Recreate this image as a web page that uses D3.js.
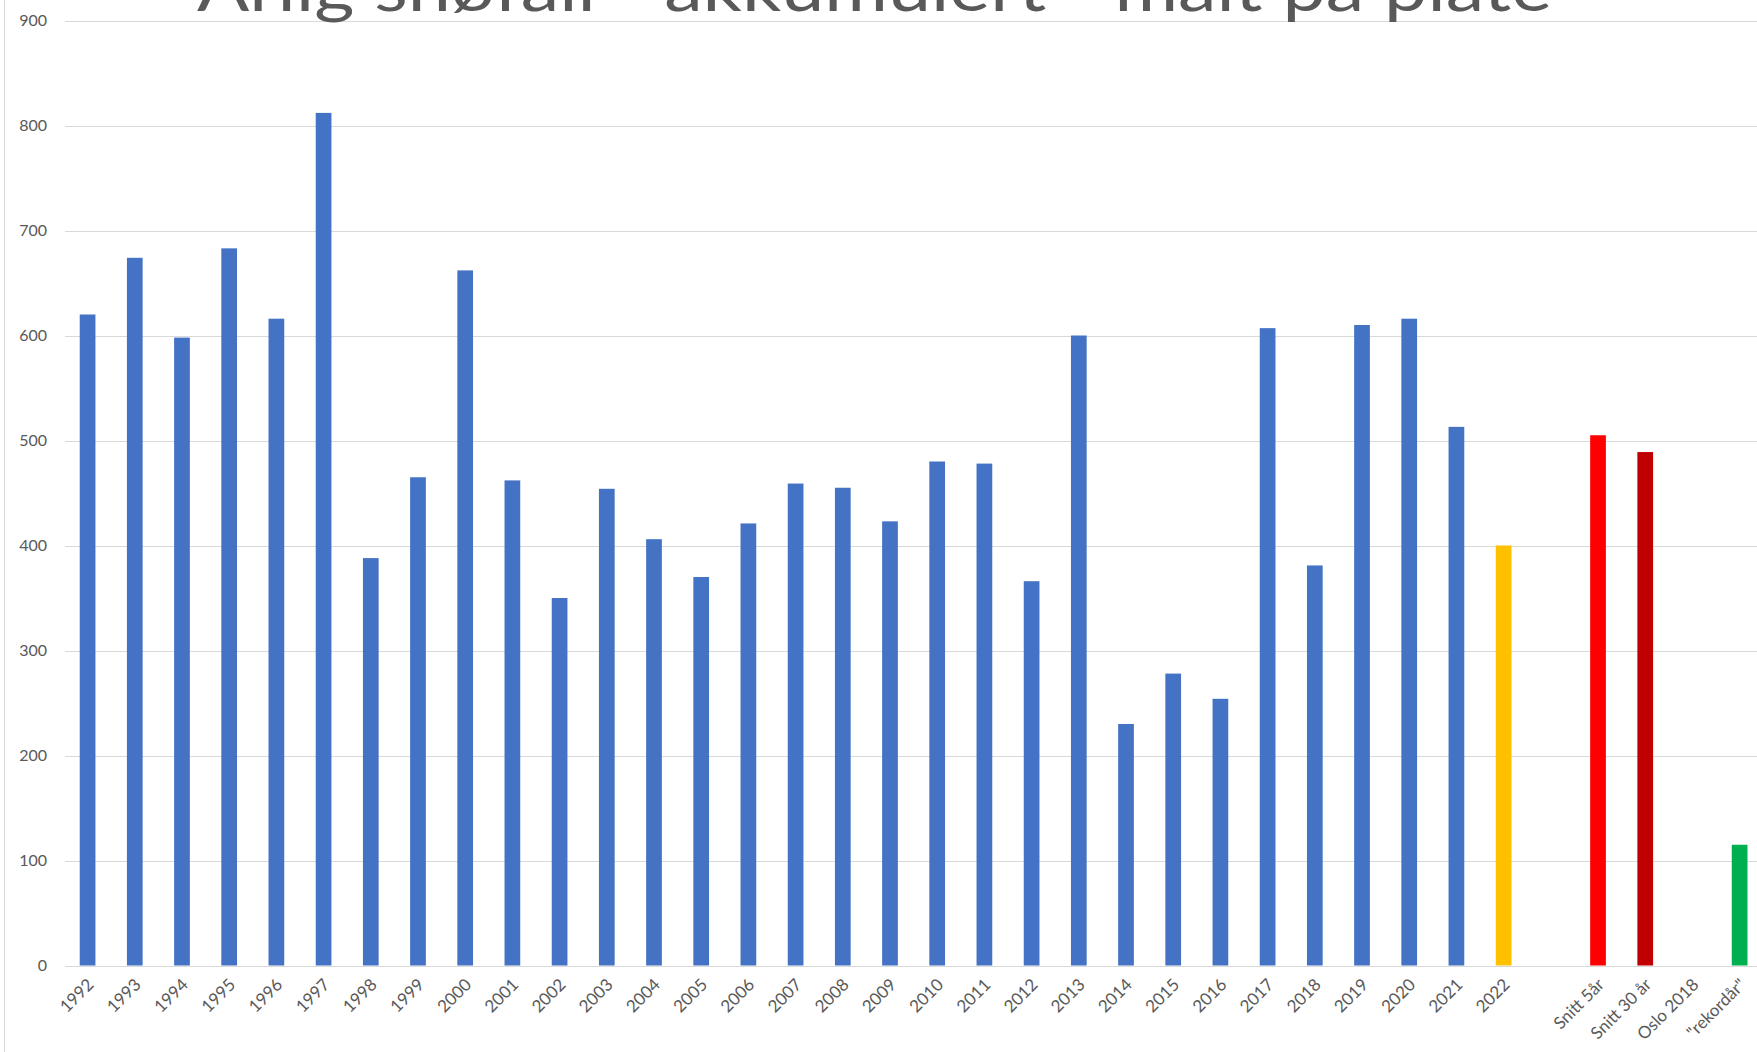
<html>
<script src='https://d3js.org/d3.v7.min.js'></script>
<style>
    body { margin: 0; background: white; }
    text { font-family: Lato, 'Open Sans', sans-serif; fill: #595959; }
</style>
<body>
<svg class="chart" width=1757 height=1052></svg>

<script>
// chart data
let categories = ['1992','1993','1994','1995','1996','1997','1998','1999','2000','2001',
    '2002','2003','2004','2005','2006','2007','2008','2009','2010','2011',
    '2012','2013','2014','2015','2016','2017','2018','2019','2020','2021',
    '2022',' ','Snitt 5år','Snitt 30 år','Oslo 2018','"rekordår"'];
let snow = [620,674,598,683,616,812,388,465,662,462,
    350,454,406,370,421,459,455,423,480,478,
    366,600,230,278,254,607,381,610,616,513,
    400,null,505,489,null,115];
let barColors = ['#4472C4','#4472C4','#4472C4','#4472C4','#4472C4','#4472C4','#4472C4','#4472C4','#4472C4','#4472C4',
    '#4472C4','#4472C4','#4472C4','#4472C4','#4472C4','#4472C4','#4472C4','#4472C4','#4472C4','#4472C4',
    '#4472C4','#4472C4','#4472C4','#4472C4','#4472C4','#4472C4','#4472C4','#4472C4','#4472C4','#4472C4',
    '#FFC000',null,'#FF0000','#C00000',null,'#00B050'];
let yTicks = [0,100,200,300,400,500,600,700,800,900];
let title = 'Årlig snøfall - akkumulert - målt på plate';

let left = 64;     // start of plot area
let step = 47.2;   // width of one category
let y0 = 965.5;    // pixel of value 0
let y900 = 20.5;   // pixel of value 900

let svg = d3.select('.chart');

let xs = d3.scaleBand().domain(categories)
    .range([left, left + categories.length * step])
    .paddingInner(0.667).paddingOuter(0.333);
let ys = d3.scaleLinear().domain([0, 900]).range([y0, y900]);

// outer border of the chart area (only the left edge is inside the crop)
svg.append('line')
    .attr('x1', 4.5).attr('x2', 4.5)
    .attr('y1', 0).attr('y2', 1052)
    .attr('stroke', '#D9D9D9').attr('stroke-width', 1);

// horizontal grid lines
svg.append('g').selectAll('line')
    .data(yTicks)
    .join('line')
    .attr('x1', left + 1)
    .attr('x2', 1757)
    .attr('y1', d => Math.round(ys(d)) + 0.5)
    .attr('y2', d => Math.round(ys(d)) + 0.5)
    .attr('stroke', '#D9D9D9')
    .attr('stroke-width', 1);

// y axis labels
let y_axis = d3.axisLeft(ys).tickValues(yTicks).tickSize(0).tickPadding(0);
let yg = svg.append('g')
    .attr('transform', 'translate(47,0)')
    .call(y_axis);
yg.select('.domain').remove();
yg.selectAll('text')
    .style('font-size', '16px')
    .attr('fill', '#595959')
    .style('font-family', 'Lato, sans-serif');

// bars
let bars = categories.map((c, i) => ({cat: c, value: snow[i], color: barColors[i]}))
    .filter(d => d.value != null);

svg.append('g').selectAll('rect')
    .data(bars)
    .join('rect')
    .attr('x', d => xs(d.cat))
    .attr('y', d => ys(d.value))
    .attr('width', xs.bandwidth())
    .attr('height', d => ys(0) - ys(d.value))
    .attr('fill', d => d.color);

// x axis labels, rotated
let x_axis = d3.axisBottom(xs).tickSize(0).tickPadding(0);
let xg = svg.append('g')
    .attr('transform', 'translate(0,' + (y0 + 16) + ')')
    .call(x_axis);
xg.select('.domain').remove();
xg.selectAll('text')
    .style('font-size', '17px')
    .style('font-family', 'Lato, sans-serif')
    .attr('fill', '#595959')
    .attr('text-anchor', 'end')
    .attr('dy', '0.35em')
    .attr('transform', 'translate(3,0) rotate(-45)');

// title, cut off at the top edge like in the original
svg.append('text')
    .attr('x', 197)
    .attr('y', 11)
    .attr('textLength', 1355)
    .attr('lengthAdjust', 'spacingAndGlyphs')
    .style('font-size', '64px')
    .attr('fill', '#595959')
    .text(title);
</script>
</body>
</html>
